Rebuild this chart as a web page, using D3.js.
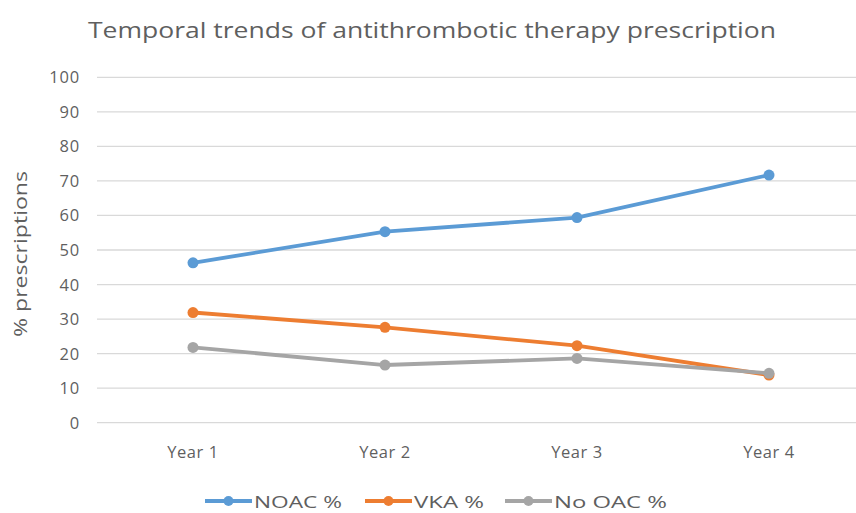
<!DOCTYPE html>
<html><head><meta charset="utf-8">
<script src="https://cdn.jsdelivr.net/npm/d3@7"></script>
<style>body{margin:0;background:#fff}svg{display:block}text{font-family:"Open Sans",sans-serif;fill:#5f5f5f}</style>
</head><body><svg id="c" width="856" height="513"></svg>
<script>
const categories = ["Year 1","Year 2","Year 3","Year 4"];
const seriesNames = ["NOAC %","VKA %","No OAC  %"];
const noac = [46.3, 55.3, 59.4, 71.7];
const vka = [31.9, 27.6, 22.3, 13.8];
const noOac = [21.8, 16.7, 18.6, 14.3];
const yTicks = [0,10,20,30,40,50,60,70,80,90,100];
const colors = ["#5B9BD5","#ED7D31","#A5A5A5"];
const series = [noac, vka, noOac];

const svg = d3.select("#c");
const x = d3.scaleBand().domain(categories).range([97, 865]).padding(0);
const y = d3.scaleLinear().domain([0,100]).range([422.7, 77.3]);

svg.append("text").attr("x", 88).attr("y", 38)
  .style("font-size","22px").attr("textLength",688).attr("lengthAdjust","spacingAndGlyphs")
  .text("Temporal trends of antithrombotic  therapy prescription");

const g = svg.append("g");
g.selectAll("line.grid").data(yTicks).join("line")
  .attr("x1", 97).attr("x2", 856).attr("y1", d=>y(d)).attr("y2", d=>y(d))
  .attr("stroke","#d9d9d9").attr("stroke-width",1.3);
g.selectAll("text.yt").data(yTicks).join("text")
  .attr("x", 80).attr("y", d=>y(d)+6).attr("text-anchor","end")
  .style("font-size","16.5px").style("letter-spacing","0.8px").text(d=>d);
g.selectAll("text.xt").data(categories).join("text")
  .attr("x", d=>x(d)+x.bandwidth()/2).attr("y", 458).attr("text-anchor","middle")
  .style("font-size","16.5px").style("letter-spacing","0.6px").text(d=>d);

svg.append("text").attr("transform","translate(27,337) rotate(-90)")
  .style("font-size","17.5px").attr("textLength",166).attr("lengthAdjust","spacingAndGlyphs")
  .text("% prescriptions");

const line = d3.line().x((d,i)=>x(categories[i])+x.bandwidth()/2).y(d=>y(d));
series.forEach((s,k)=>{
  svg.append("path").datum(s).attr("d", line).attr("fill","none")
    .attr("stroke", colors[k]).attr("stroke-width",3.8).attr("stroke-linejoin","round");
  svg.selectAll("circle.s"+k).data(s).join("circle")
    .attr("cx",(d,i)=>x(categories[i])+x.bandwidth()/2).attr("cy", d=>y(d)).attr("r",5.5)
    .attr("fill", colors[k]);
});

const legX = [205, 365, 505];
const legW = [88, 70, 113];
seriesNames.forEach((n,k)=>{
  const lg = svg.append("g").attr("transform",`translate(${legX[k]},501)`);
  lg.append("line").attr("x1",0).attr("x2",47).attr("y1",0).attr("y2",0)
    .attr("stroke",colors[k]).attr("stroke-width",3.8);
  lg.append("circle").attr("cx",23.5).attr("cy",0).attr("r",5).attr("fill",colors[k]);
  lg.append("text").attr("x",49).attr("y",6.5).style("font-size","17px")
    .attr("textLength",legW[k]).attr("lengthAdjust","spacingAndGlyphs").text(n);
});
</script></body></html>
